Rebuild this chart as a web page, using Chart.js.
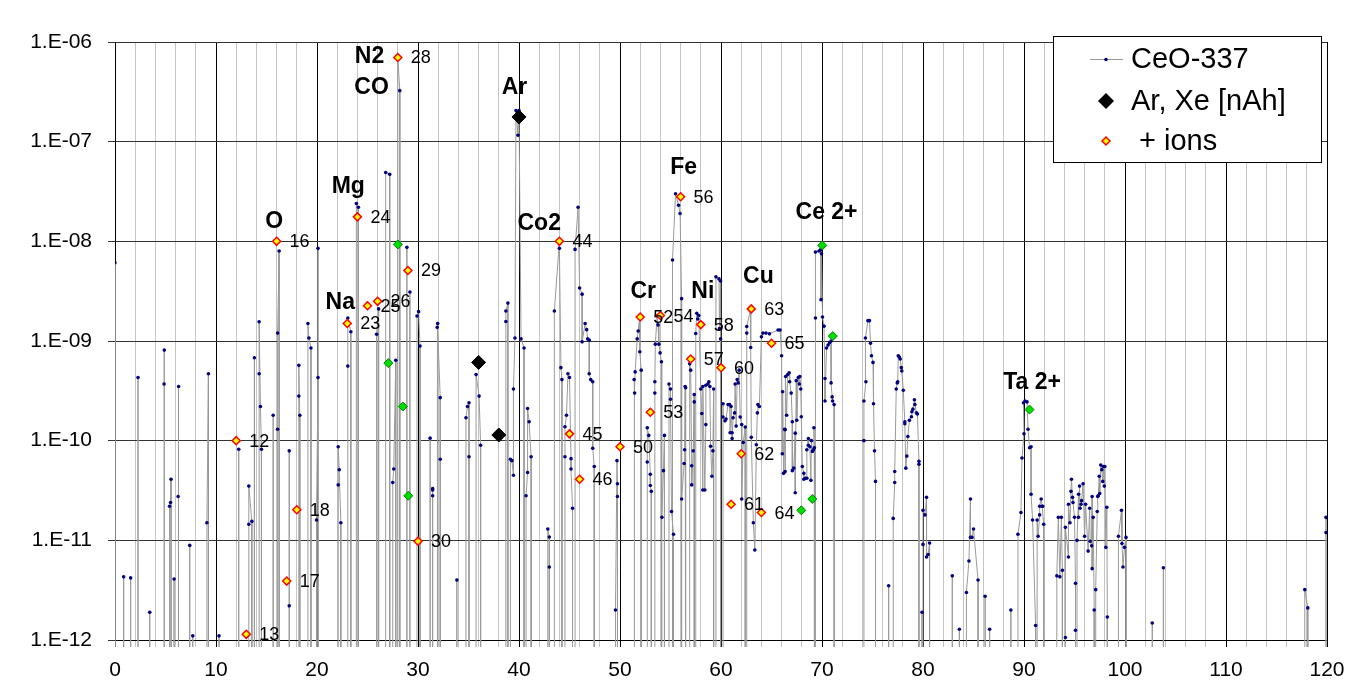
<!DOCTYPE html>
<html>
<head>
<meta charset="utf-8">
<title>CeO-337</title>
<script src="https://cdn.jsdelivr.net/npm/chart.js@4.4.1/dist/chart.umd.min.js"></script>
<style>
  html, body { margin: 0; padding: 0; background: #fff; }
</style>
</head>
<body>
<canvas id="chart" width="1365" height="700"></canvas>
<script>
  // 0 = below the bottom of the axis (signal lost)
  const ceoPoints = [
    [0,6.1e-9],[0,0],
    [0.86,0],[0.86,4.3e-12],[0.86,0],
    [1.55,0],[1.55,4.2e-12],[1.55,0],
    [2.28,0],[2.28,4.3e-10],[2.28,0],
    [3.44,0],[3.44,1.9e-12],[3.44,0],
    [4.86,0],[4.86,3.7e-10],[4.88,8.1e-10],[4.88,0],
    [5.4,0],[5.4,2.2e-11],[5.5,2.4e-11],[5.55,4.1e-11],[5.55,0],
    [5.85,0],[5.85,4.1e-12],[5.85,0],
    [6.25,0],[6.25,2.75e-11],[6.3,3.5e-10],[6.3,0],
    [7.4,0],[7.4,8.9e-12],[7.4,0],
    [7.7,0],[7.7,1.1e-12],[7.7,0],
    [9.1,0],[9.1,1.5e-11],[9.25,4.7e-10],[9.25,0],
    [10.3,0],[10.3,1.1e-12],[10.3,0],
    [12.25,0],[12.25,8.2e-11],[12.25,0],
    [13.25,0],[13.25,1.45e-11],[13.25,3.5e-11],[13.55,1.55e-11],[13.55,0],
    [13.8,0],[13.8,6.8e-10],[13.8,0],
    [14.27,0],[14.27,4.7e-10],[14.27,1.56e-9],[14.4,2.2e-10],[14.5,8.2e-11],[14.5,0],
    [15.66,0],[15.66,1.8e-10],[15.66,0],
    [16.1,0],[16.1,1.3e-10],[16.1,1.2e-9],[16.25,8e-9],[16.25,0],
    [17.25,0],[17.25,2.2e-12],[17.25,7.9e-11],[17.25,0],
    [18.2,0],[18.2,2.8e-10],[18.2,5.7e-10],[18.3,1.8e-10],[18.3,0],
    [19.1,0],[19.1,1.5e-9],[19.2,1.07e-9],[19.4,8.5e-10],[19.4,0],
    [19.95,0],[19.95,1.6e-11],[20.1,4.3e-10],[20.1,8.5e-9],[20.1,0],
    [22.1,0],[22.1,3.6e-11],[22.1,8.7e-11],[22.2,5.1e-11],[22.36,1.5e-11],[22.36,0],
    [23.05,0],[23.05,5.6e-10],[23.05,1.7e-9],[23.35,1.24e-9],[23.35,0],
    [23.9,0],[23.9,2.4e-8],[24.1,2.2e-8],[24.1,0],
    [25.9,0],[25.9,1.17e-9],[26.1,2.1e-9],[26.1,0],
    [26.8,0],[26.8,4.9e-8],[27.2,4.7e-8],[27.2,0],
    [27.5,0],[27.5,3.8e-11],[27.6,5.2e-11],[27.8,6.4e-10],[27.8,0],
    [28.0,0],[28.0,7e-7],[28.2,3.25e-7],[28.2,0],
    [28.9,0],[28.9,8.7e-9],[28.9,0],
    [29.2,0],[29.2,3.1e-9],[29.2,0],
    [29.9,0],[29.9,1.78e-9],[30.06,1.97e-9],[30.2,8.9e-10],[30.2,0],
    [31.2,0],[31.2,1.06e-10],[31.2,0],
    [31.45,0],[31.45,3.3e-11],[31.45,2.8e-11],[31.45,3.2e-11],[31.45,0],
    [31.9,0],[31.9,1.37e-9],[31.95,1.5e-9],[32.2,2.7e-10],[32.2,6.5e-11],[32.2,0],
    [33.85,0],[33.85,4e-12],[33.85,0],
    [34.75,0],[34.75,1.7e-10],[34.9,2.2e-10],[35.05,2.4e-10],[35.05,6.9e-11],[35.05,0],
    [35.75,0],[35.75,4.6e-10],[36.05,2.8e-10],[36.2,9e-11],[36.2,0],
    [38.7,0],[38.7,1.57e-9],[38.7,2.0e-9],[38.9,2.4e-9],[38.9,0],
    [39.15,0],[39.15,6.5e-11],[39.3,6.3e-11],[39.45,4.5e-11],[39.45,3.3e-10],[39.6,1.07e-9],[39.7,2.05e-7],[39.9,1.16e-7],[40.0,2.05e-7],[40.2,1.05e-9],[40.5,8.5e-10],[40.5,0],
    [40.7,0],[40.7,2.8e-11],[40.85,4.8e-11],[40.85,2.1e-10],[41.0,1.55e-10],[41.2,6.9e-11],[41.2,0],
    [42.85,0],[42.85,1.3e-11],[43.0,1.08e-11],[43.0,5.4e-12],[43.0,0],
    [43.5,0],[43.5,2.0e-9],[44.0,1e-8],[44.0,8.5e-9],[44.15,5.4e-10],[44.25,4.1e-10],[44.25,0],
    [44.55,0],[44.55,6.9e-11],[44.55,1.38e-10],[44.7,1.8e-10],[44.85,4.7e-10],[45.0,4.3e-10],[45.15,6.6e-11],[45.15,5.2e-11],[45.3,2.1e-11],[45.3,0],
    [45.55,0],[45.55,8.3e-9],[45.85,2.2e-8],[46.0,3.4e-9],[46.25,2.95e-9],[46.25,9.8e-10],[46.55,1.5e-9],[46.7,1.3e-9],[46.8,1.05e-9],[46.95,1.02e-9],[46.95,4.7e-10],[47.1,4.1e-10],[47.3,3.9e-10],[47.3,8.4e-11],[47.45,5.5e-11],[47.45,0],
    [49.55,0],[49.55,2.0e-12],[49.7,6.3e-11],[49.75,3.7e-11],[49.75,2.75e-11],[49.75,0],
    [51.4,0],[51.4,4.1e-10],[51.45,3e-10],[51.5,4.9e-10],[51.7,1.05e-9],[51.8,1.26e-9],[51.96,1.74e-9],[51.96,7.8e-10],[52.1,5.1e-10],[52.1,0],
    [52.7,0],[52.7,6.1e-11],[52.7,1.35e-10],[52.85,1.13e-10],[53.0,4.6e-11],[53.0,3.55e-11],[53.1,3.1e-11],[53.1,0],
    [53.45,0],[53.45,3e-10],[53.45,3.9e-10],[53.5,9.3e-10],[53.67,1.78e-9],[53.77,1.45e-9],[53.85,9.3e-10],[53.97,7.6e-10],[54.1,6.2e-10],[54.1,0],
    [54.15,0],[54.15,1.7e-11],[54.3,5e-11],[54.4,1.13e-10],[54.4,0],
    [54.85,0],[54.85,3.7e-10],[55.0,3.3e-10],[55.0,2.6e-10],[55.1,1.95e-11],[55.3,1.15e-11],[55.3,0],
    [55.2,0],[55.2,6.5e-9],[55.5,3.0e-8],[55.8,2.3e-8],[55.95,1.9e-8],[56.1,2.66e-9],[56.1,0],
    [56.1,2.6e-11],[56.35,5.9e-11],[56.4,8.1e-11],[56.45,3.5e-10],[56.5,3.4e-10],[56.5,0],
    [56.9,0],[56.9,5.9e-10],[57.0,5.1e-10],[57.1,5.6e-11],[57.1,3.6e-11],[57.25,7.9e-11],[57.35,2.9e-10],[57.35,2.45e-10],[57.35,0],
    [57.5,0],[57.5,1.19e-9],[57.6,1.9e-9],[57.7,1.66e-9],[57.8,1.8e-9],[58.0,3.3e-10],[58.1,1.87e-10],[58.2,3.2e-11],[58.2,3.5e-10],[58.4,3.2e-11],[58.5,1.45e-10],[58.5,3.6e-10],[58.7,3.7e-10],[58.8,3.9e-10],[58.9,3.5e-10],[58.97,8.8e-11],[59.1,4.4e-11],[59.2,7.9e-11],[59.27,3.3e-10],[59.27,0],
    [59.5,0],[59.5,4.4e-9],[59.8,4.2e-9],[59.85,1.33e-9],[59.96,4.0e-9],[59.96,1.05e-9],[59.96,0],
    [60.2,0],[60.2,2.35e-10],[60.2,1.73e-10],[60.4,1.58e-10],[60.5,1.65e-10],[60.7,2.3e-10],[60.85,2.3e-10],[60.9,1.2e-10],[61.0,2.2e-10],[61.1,1.2e-10],[61.1,1.05e-10],[61.2,1.7e-10],[61.35,1.9e-10],[61.4,3.7e-10],[61.5,1.4e-10],[61.6,4.1e-10],[61.7,3.8e-10],[61.8,5.1e-10],[61.9,1.73e-10],[62.05,1.45e-10],[62.05,2.6e-11],[62.2,9.6e-11],[62.4,1.37e-10],[62.4,0],
    [62.55,0],[62.55,1.2e-9],[62.55,1.4e-9],[62.94,2.1e-9],[62.94,8.6e-10],[63.0,1.08e-10],[63.2,1.5e-11],[63.35,8e-12],[63.5,9.1e-11],[63.6,1.9e-10],[63.65,2.3e-10],[63.8,2.2e-10],[64.0,1.1e-9],[64.15,1.2e-9],[64.45,1.2e-9],[64.8,1.18e-9],[65.65,1.29e-9],[65.85,1.29e-9],[66.0,7.1e-10],[66.07,7.4e-11],[66.1,3.1e-10],[66.2,4.7e-11],[66.3,1.3e-10],[66.35,4.9e-11],[66.35,1.29e-10],[66.4,4.4e-10],[66.5,1.8e-10],[66.6,4.6e-10],[66.75,4.8e-10],[66.8,3.9e-10],[66.95,3.0e-10],[67.06,1.55e-10],[67.06,5e-11],[67.2,5.3e-11],[67.35,1.19e-10],[67.35,3.0e-11],[67.45,4e-10],[67.5,1.6e-10],[67.65,4.3e-10],[67.75,3.7e-10],[67.8,4.4e-10],[67.9,3.3e-10],[67.95,1.74e-10],[68.05,5.5e-11],[68.2,4.7e-11],[68.2,4.1e-11],[68.35,4.2e-11],[68.5,4.2e-11],[68.5,8.1e-11],[68.65,1.05e-10],[68.65,9e-11],[68.8,8.7e-11],[68.9,4e-11],[68.95,1.0e-10],[69.05,7.8e-11],[69.15,8.1e-11],[69.2,1.35e-10],[69.25,8.5e-11],[69.25,0],
    [69.35,0],[69.35,1.7e-9],[69.35,7.8e-9],[69.7,8.0e-9],[69.85,8.2e-9],[69.9,2.6e-9],[69.95,7.5e-9],[70.05,1.74e-9],[70.2,1.41e-9],[70.3,4.2e-10],[70.3,2.5e-10],[70.45,8.5e-10],[70.6,9.1e-10],[70.75,9.6e-10],[70.9,1.0e-9],[70.9,3.8e-10],[71.0,2.75e-10],[71.05,2.5e-10],[71.2,2.3e-10],[71.2,0],
    [74.15,0],[74.15,1e-10],[74.15,2.5e-10],[74.35,3.9e-10],[74.3,1.07e-9],[74.55,1.6e-9],[74.7,1.6e-9],[74.8,9.5e-10],[74.9,7.1e-10],[75.05,6.1e-10],[75.1,2.35e-10],[75.2,7.9e-11],[75.3,3.9e-11],[75.3,0],
    [76.6,0],[76.6,3.5e-12],[76.6,0],
    [77.05,0],[77.05,1.66e-11],[77.2,3.8e-11],[77.2,4.9e-11],[77.35,3.3e-10],[77.45,3.8e-10],[77.5,3.9e-10],[77.55,7.1e-10],[77.65,6.9e-10],[77.75,6.6e-10],[77.85,5.4e-10],[77.9,5e-10],[78.05,3.2e-10],[78.2,1.55e-10],[78.2,1.48e-10],[78.3,5.3e-11],[78.4,7e-11],[78.5,1.1e-10],[78.65,1.6e-10],[78.85,1.74e-10],[78.9,1.95e-10],[79.0,2.07e-10],[79.15,2.57e-10],[79.2,2.3e-10],[79.35,1.9e-10],[79.45,1.85e-10],[79.6,6.2e-11],[79.6,5.8e-11],[79.6,0],
    [79.9,0],[79.9,1.9e-12],[79.9,0],
    [80.0,0],[80.0,9.1e-12],[80.0,2e-11],[80.2,1.8e-11],[80.35,2.7e-11],[80.35,6.8e-12],[80.5,7.2e-12],[80.65,9.4e-12],[80.65,0],
    [82.9,0],[82.9,4.4e-12],[82.9,0],
    [83.6,0],[83.6,1.28e-12],[83.6,0],
    [84.3,0],[84.3,3e-12],[84.55,6.2e-12],[84.7,2.6e-11],[84.7,1.07e-11],[84.85,1.07e-11],[85.0,1.3e-11],[85.45,4e-12],[85.45,0],
    [86.15,0],[86.15,2.75e-12],[86.15,0],
    [86.6,0],[86.6,1.28e-12],[86.6,0],
    [88.7,0],[88.7,2e-12],[88.7,0],
    [89.4,0],[89.4,1.15e-11],[89.7,1.9e-11],[89.8,6.7e-11],[90.0,1.17e-10],[89.95,2.4e-10],[90.1,2.5e-10],[90.3,2.45e-10],[90.4,1.3e-10],[90.55,8.5e-11],[90.7,8.7e-11],[90.7,2.9e-11],[90.85,1.6e-11],[91.15,1.4e-12],[91.15,0],
    [91.3,0],[91.3,1.6e-11],[91.4,1.1e-11],[91.55,1.8e-11],[91.55,2.2e-11],[91.7,2.6e-11],[91.8,2.2e-11],[91.85,2.2e-11],[91.95,1.45e-11],[91.95,0],
    [93.25,0],[93.25,4.4e-12],[93.4,1.7e-11],[93.55,4.3e-12],[93.7,1.7e-11],[93.8,5e-12],[93.8,0],
    [94.1,0],[94.1,1.06e-12],[94.1,1.35e-11],[94.4,6.8e-12],[94.4,2.3e-11],[94.55,1.5e-11],[94.65,3.1e-11],[94.7,4.1e-11],[94.8,2.7e-11],[94.85,2.4e-11],[95.0,1.7e-11],[95.1,3.7e-12],[95.1,1.25e-12],[95.1,0],
    [95.25,0],[95.25,1e-11],[95.4,2.9e-11],[95.4,1.7e-11],[95.5,3.5e-11],[95.55,2.1e-11],[95.65,2.3e-11],[95.7,2.5e-11],[95.85,3.7e-11],[96.0,1.1e-11],[96.1,2.3e-11],[96.35,7.8e-12],[96.5,2.1e-11],[96.55,9.8e-12],[96.7,8.8e-12],[96.75,2.75e-11],[96.75,5.2e-12],[96.85,1.7e-11],[96.95,2e-12],[96.95,0],
    [97.1,0],[97.1,3.2e-12],[97.25,1.95e-11],[97.3,2.75e-11],[97.35,2.8e-11],[97.45,4.4e-11],[97.5,2.95e-11],[97.6,5.7e-11],[97.7,5.1e-11],[97.8,3.9e-11],[97.85,5.5e-11],[97.95,3.5e-11],[98.0,5.5e-11],[98.1,8.5e-12],[98.2,2.15e-11],[98.25,1.7e-12],[98.25,0],
    [99.35,0],[99.35,1.1e-11],[99.65,2e-11],[99.7,9.3e-12],[99.8,5.4e-12],[99.95,8.5e-12],[100.1,1.07e-11],[100.1,0],
    [102.7,0],[102.7,1.48e-12],[102.7,0],
    [103.8,0],[103.8,5.3e-12],[103.8,0],
    [117.8,0],[117.8,3.2e-12],[118.1,2.1e-12],[118.1,0],
    [119.9,0],[119.9,1.7e-11],[119.9,1.2e-11],[119.9,0]
  ];

  const ionMass    = [12, 13, 16, 17, 18, 23, 24, 25, 26, 28, 29, 30, 44, 45, 46, 50, 52, 53, 54, 56, 57, 58, 60, 61, 62, 63, 64, 65];
  const ionCurrent = [1.0e-10, 1.14e-12, 1.0e-8, 3.9e-12, 2.03e-11, 1.5e-9, 1.76e-8, 2.26e-9, 2.5e-9, 7.0e-7, 5.1e-9, 9.8e-12,
                      1.0e-8, 1.17e-10, 4.1e-11, 8.7e-11, 1.74e-9, 1.93e-10, 1.8e-9, 2.8e-8, 6.6e-10, 1.46e-9, 5.4e-10,
                      2.3e-11, 7.4e-11, 2.1e-9, 1.9e-11, 9.5e-10];

  const arXeMass    = [36, 38, 40];
  const arXeCurrent = [6.1e-10, 1.14e-10, 1.77e-7];

  const doubleMass    = [27.06, 28.0, 28.5, 29.04, 67.95, 69.04, 70.03, 71.07, 90.55];
  const doubleCurrent = [6.0e-10, 9.3e-9, 2.2e-10, 2.8e-11, 2.0e-11, 2.6e-11, 9.1e-9, 1.12e-9, 2.05e-10];

  const peakNames  = ['N2', 'CO', 'Ar', 'Mg', 'O', 'Fe', 'Co2', 'Ce 2+', 'Cu', 'Cr', 'Ni', 'Na', 'Ta 2+'];
  const peakMass   = [25.2, 25.4, 39.55, 23.1, 15.75, 56.3, 42.0, 70.45, 63.7, 52.3, 58.2, 22.3, 90.8];
  const peakLevel  = [7.3e-7, 3.6e-7, 3.6e-7, 3.6e-8, 1.6e-8, 5.6e-8, 1.55e-8, 2.0e-8, 4.5e-9, 3.2e-9, 3.2e-9, 2.5e-9, 3.9e-10];

  const yTicks      = [1e-12, 1e-11, 1e-10, 1e-9, 1e-8, 1e-7, 1e-6];
  const yTickLabels = ['1.E-12', '1.E-11', '1.E-10', '1.E-09', '1.E-08', '1.E-07', '1.E-06'];
  const xTickLabels = [0, 10, 20, 30, 40, 50, 60, 70, 80, 90, 100, 110, 120];

  const FLOOR = 1e-13;
  const FONT = '"Liberation Sans", Arial, sans-serif';

  const toXY = (xs, ys) => xs.map((x, i) => ({x, y: ys[i]}));

  function diamond(ctx, x, y, r, fill, stroke, lw) {
    ctx.beginPath();
    ctx.moveTo(x - r, y);
    ctx.lineTo(x, y - r);
    ctx.lineTo(x + r, y);
    ctx.lineTo(x, y + r);
    ctx.closePath();
    ctx.fillStyle = fill;
    ctx.fill();
    if (stroke) {
      ctx.strokeStyle = stroke;
      ctx.lineWidth = lw;
      ctx.stroke();
    }
  }

  const textPlugin = {
    id: 'peakText',
    afterDatasetsDraw(chart) {
      const {ctx, scales: {x, y}} = chart;
      ctx.save();
      ctx.fillStyle = '#000';
      ctx.textBaseline = 'middle';
      ctx.textAlign = 'left';
      ctx.font = '18px ' + FONT;
      ionMass.forEach((m, i) => {
        ctx.fillText(String(m), x.getPixelForValue(m) + 13, y.getPixelForValue(ionCurrent[i]) + 1);
      });
      ctx.font = 'bold 23px ' + FONT;
      ctx.textAlign = 'center';
      peakNames.forEach((t, i) => {
        ctx.fillText(t, x.getPixelForValue(peakMass[i]), y.getPixelForValue(peakLevel[i]) + 1);
      });
      ctx.restore();
    },
    afterDraw(chart) {
      const ctx = chart.ctx;
      const a = chart.chartArea;
      const bx = a.right - 274, by = a.top - 6, bw = 268, bh = 126;
      ctx.save();
      ctx.fillStyle = '#fff';
      ctx.fillRect(bx, by, bw, bh);
      ctx.strokeStyle = '#000';
      ctx.lineWidth = 1;
      ctx.strokeRect(bx + 0.5, by + 0.5, bw, bh);

      const sx = bx + 53, tx = bx + 78;
      const rows = [by + 23, by + 65, by + 105];
      ctx.strokeStyle = '#9a9a9a';
      ctx.beginPath();
      ctx.moveTo(sx - 16, rows[0] + 0.5);
      ctx.lineTo(sx + 17, rows[0] + 0.5);
      ctx.stroke();
      ctx.fillStyle = '#000080';
      ctx.beginPath();
      ctx.arc(sx, rows[0] + 0.5, 1.8, 0, Math.PI * 2);
      ctx.fill();
      diamond(ctx, sx, rows[1], 8, '#000');
      diamond(ctx, sx, rows[2], 4, '#ffff00', '#ff0000', 1.5);

      ctx.fillStyle = '#000';
      ctx.font = '29px ' + FONT;
      ctx.textBaseline = 'middle';
      ctx.textAlign = 'left';
      chart.data.datasets.slice(0, 3).forEach((d, i) => ctx.fillText(d.label, tx, rows[i] + 1));
      ctx.restore();
    }
  };

  new Chart(document.getElementById('chart'), {
    type: 'scatter',
    data: {
      datasets: [
        {
          label: 'CeO-337',
          data: ceoPoints.map(p => ({x: p[0], y: p[1] > 0 ? p[1] : FLOOR})),
          showLine: true,
          borderColor: '#9a9a9a',
          borderWidth: 1,
          pointRadius: c => (c.raw && c.raw.y > FLOOR ? 1.8 : 0),
          pointBackgroundColor: '#000080',
          pointBorderWidth: 0,
          clip: {left: 0, top: 0, right: 0, bottom: 7},
          order: 4
        },
        {
          label: 'Ar, Xe [nAh]',
          data: toXY(arXeMass, arXeCurrent),
          pointStyle: 'rectRot',
          pointRadius: 7,
          pointBackgroundColor: '#000',
          pointBorderColor: '#000',
          pointBorderWidth: 1,
          order: 2
        },
        {
          label: ' + ions',
          data: toXY(ionMass, ionCurrent),
          pointStyle: 'rectRot',
          pointRadius: 4,
          pointBackgroundColor: '#ffff00',
          pointBorderColor: '#ff0000',
          pointBorderWidth: 1.5,
          order: 1
        },
        {
          label: '2+ ions',
          data: toXY(doubleMass, doubleCurrent),
          pointStyle: 'rectRot',
          pointRadius: 4.5,
          pointBackgroundColor: '#00dd00',
          pointBorderColor: '#008000',
          pointBorderWidth: 1,
          order: 3
        }
      ]
    },
    options: {
      responsive: false,
      animation: false,
      events: [],
      layout: {padding: {top: 42, right: 38, left: 0, bottom: 0}},
      plugins: {legend: {display: false}, tooltip: {enabled: false}},
      scales: {
        x: {
          type: 'linear',
          min: 0,
          max: 120,
          afterFit: s => { s.height = 60; },
          ticks: {
            stepSize: 2,
            autoSkip: false,
            maxRotation: 0,
            padding: 11,
            color: '#000',
            font: {family: FONT, size: 21},
            callback: v => (xTickLabels.includes(v) ? String(v) : '')
          },
          grid: {
            color: c => (c.tick && c.tick.value % 10 === 0 ? '#000' : '#c4c4c4'),
            tickColor: c => (c.tick && c.tick.value % 10 === 0 ? '#000' : '#c4c4c4'),
            tickLength: 7
          },
          border: {color: '#000'}
        },
        y: {
          type: 'logarithmic',
          min: 1e-12,
          max: 1e-6,
          afterFit: s => { s.width = 115; },
          afterBuildTicks: s => { s.ticks = yTicks.map(v => ({value: v})); },
          ticks: {
            autoSkip: false,
            padding: 16,
            color: '#000',
            font: {family: FONT, size: 21},
            callback: (v, i) => yTickLabels[i]
          },
          grid: {color: '#333', tickColor: '#333', tickLength: 7},
          border: {color: '#000'}
        }
      }
    },
    plugins: [textPlugin]
  });
</script>
</body>
</html>
